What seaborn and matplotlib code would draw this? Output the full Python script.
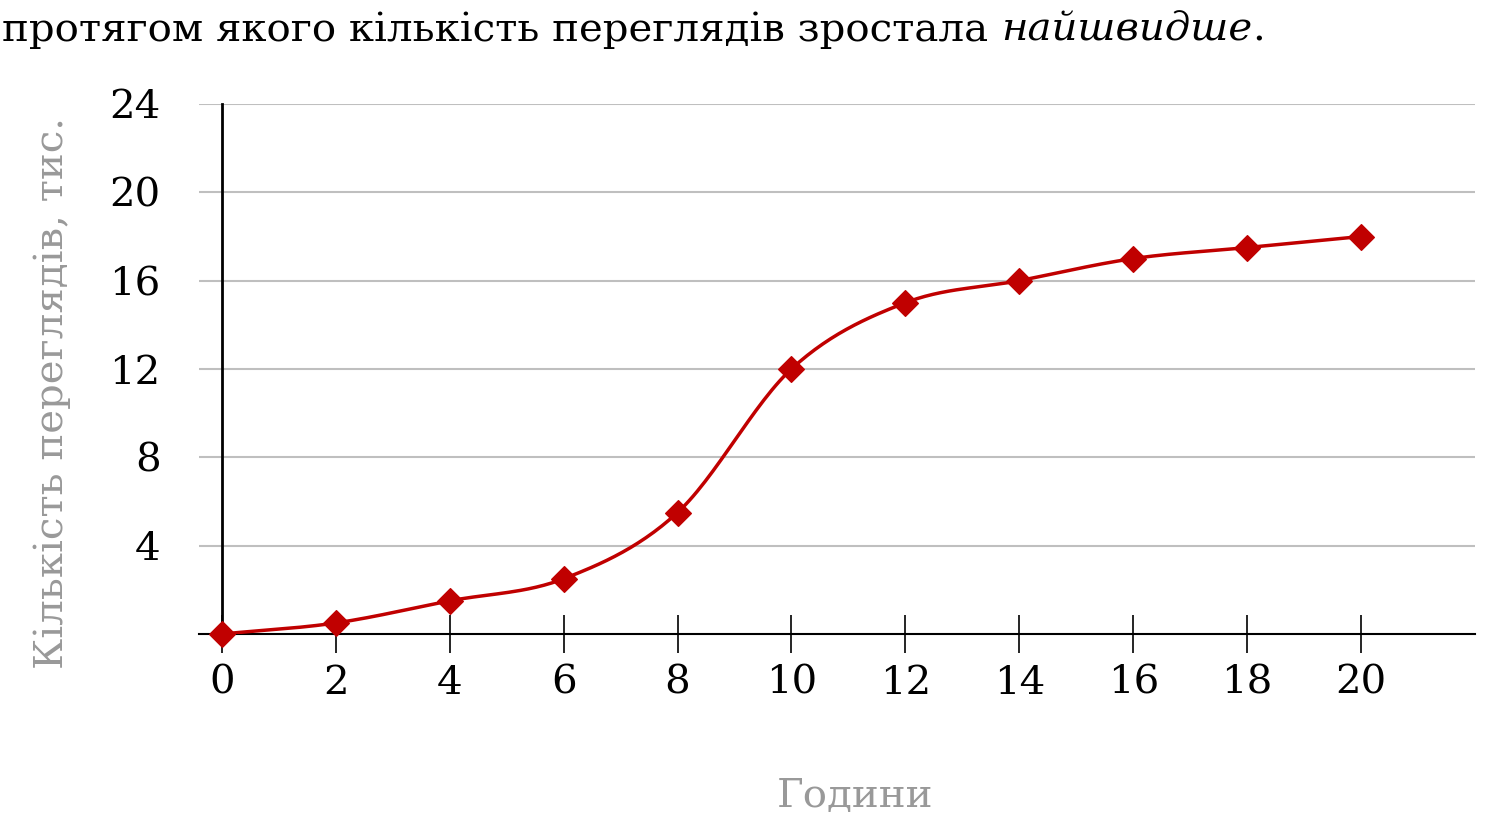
import numpy as np
import matplotlib
matplotlib.use("Agg")
import matplotlib.pyplot as plt
import seaborn as sns

sns.set_theme(style="white")
plt.rcParams['font.family'] = ['DejaVu Serif']

hours = [0, 2, 4, 6, 8, 10, 12, 14, 16, 18, 20]
views = [0, 0.5, 1.5, 2.5, 5.5, 12, 15, 16, 17, 17.5, 18]
red = "#c00000"


def catmull_rom(xs, ys, n=30):
    # smooth curve through the points
    xs = np.asarray(xs, float)
    ys = np.asarray(ys, float)
    px = np.concatenate([[2 * xs[0] - xs[1]], xs, [2 * xs[-1] - xs[-2]]])
    py = np.concatenate([[2 * ys[0] - ys[1]], ys, [2 * ys[-1] - ys[-2]]])
    outx, outy = [], []
    t = np.linspace(0, 1, n)
    for i in range(1, len(px) - 2):
        for p, out in ((px, outx), (py, outy)):
            p0, p1, p2, p3 = p[i - 1], p[i], p[i + 1], p[i + 2]
            out.extend(0.5 * (2 * p1 + (-p0 + p2) * t
                              + (2 * p0 - 5 * p1 + 4 * p2 - p3) * t ** 2
                              + (-p0 + 3 * p1 - 3 * p2 + p3) * t ** 3))
    return outx, outy


fig = plt.figure(figsize=(14.96, 8.16), dpi=100)
ax = fig.add_axes([199 / 1496, 1 - 634 / 816, (1475 - 199) / 1496, 530 / 816])

sx, sy = catmull_rom(hours, views)
ax.plot(sx, sy, color=red, lw=2.5, zorder=3)
sns.scatterplot(x=hours, y=views, marker="D", s=170, color=red, edgecolor=red,
                ax=ax, zorder=4, clip_on=False)

ax.set_xlim(-0.4, 22)
ax.set_ylim(0, 24)
ax.set_xticks(hours)
ax.set_yticks([4, 8, 12, 16, 20, 24])
ax.yaxis.grid(True, color="#bfbfbf", lw=1.5)
ax.set_axisbelow(True)
for s in ["top", "right"]:
    ax.spines[s].set_visible(False)
ax.spines["left"].set_position(("data", 0))
ax.spines["left"].set_color("black")
ax.spines["left"].set_linewidth(2)
ax.spines["bottom"].set_color("black")
ax.spines["bottom"].set_linewidth(1.5)
ax.tick_params(axis="x", direction="inout", length=28, width=1.2, color="black",
               labelsize=29, pad=8, bottom=True)
ax.tick_params(axis="y", length=0, labelsize=29, pad=44)
for lab in ax.get_xticklabels() + ax.get_yticklabels():
    lab.set_color("black")

fig.text(855 / 1496, 1 - 797 / 816, "Години", fontsize=29, color="#999999",
         ha="center", va="center")
fig.text(52 / 1496, 1 - 393 / 816, "Кількість переглядів, тис.", fontsize=29,
         color="#999999", rotation=90, ha="center", va="center")

t1 = fig.text(2 / 1496, 1 - 30 / 816, "протягом якого кількість переглядів зростала ",
              fontsize=29, color="black", ha="left", va="center")
fig.canvas.draw()
bb = t1.get_window_extent()
fig.text(bb.x1 / 1496, 1 - 30 / 816, "найшвидше", fontsize=29, style="italic",
         color="black", ha="left", va="center")
fig.canvas.draw()
t2 = fig.texts[-1].get_window_extent()
fig.text(t2.x1 / 1496, 1 - 30 / 816, ".", fontsize=29, color="black",
         ha="left", va="center")

fig.savefig("out.png", dpi=100)
